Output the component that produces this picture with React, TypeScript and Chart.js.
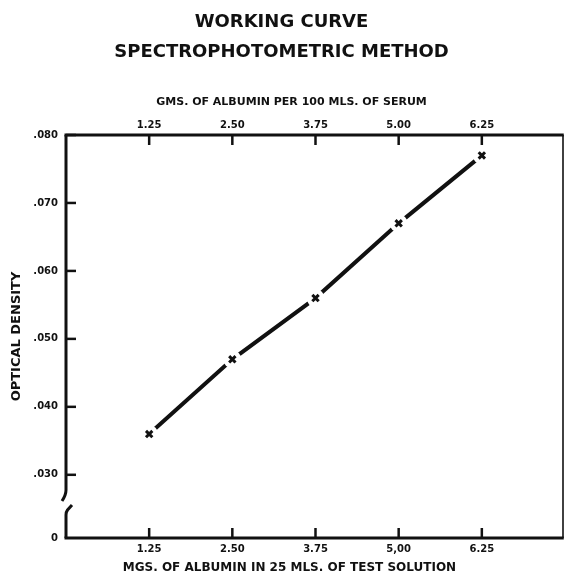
import React, { useEffect, useRef } from 'react';
import { Chart, registerables } from 'chart.js';

Chart.register(...registerables);

// ---- data ----
const albuminMg = [1.25, 2.5, 3.75, 5.0, 6.25];
const opticalDensity = [0.036, 0.047, 0.056, 0.067, 0.077];

const xTickValues = [1.25, 2.5, 3.75, 5.0, 6.25];
const bottomTickLabels = ['1.25', '2.50', '3.75', '5,00', '6.25'];
const topTickLabels = ['1.25', '2.50', '3.75', '5.00', '6.25'];

const yTickValues = [0.03, 0.04, 0.05, 0.06, 0.07, 0.08];
const yTickLabels = ['.030', '.040', '.050', '.060', '.070', '.080'];
const yZeroLabel = '0';

const titleLines = ['WORKING CURVE', 'SPECTROPHOTOMETRIC METHOD'];
const topAxisTitle = 'GMS. OF ALBUMIN PER 100 MLS. OF SERUM';
const bottomAxisTitle = 'MGS. OF ALBUMIN IN 25 MLS. OF TEST SOLUTION';
const yAxisTitle = 'OPTICAL DENSITY';

const xMin = 0;
const xMax = 7.47;
const yBrokenMin = 0.0207; // axis is broken: the bottom of the scale stands for 0
const yMax = 0.08;

const FONT = '"DejaVu Sans", "Liberation Sans", sans-serif';
const INK = '#111111';
const PAD = '\u00A0'.repeat(12);

const framePlugin = {
  id: 'frameAndTicks',
  afterDatasetsDraw(chart: any) {
    const { ctx, chartArea: a, scales } = chart;
    const line = (x1: number, y1: number, x2: number, y2: number) => {
      ctx.beginPath();
      ctx.moveTo(x1, y1);
      ctx.lineTo(x2, y2);
      ctx.stroke();
    };
    ctx.save();
    ctx.strokeStyle = INK;
    ctx.lineCap = 'butt';
    // top & bottom
    ctx.lineWidth = 3;
    line(a.left - 1.5, a.top, a.right + 0.75, a.top);
    line(a.left - 1.5, a.bottom, a.right + 0.75, a.bottom);
    // right
    ctx.lineWidth = 1.6;
    line(a.right, a.top, a.right, a.bottom);
    // left with break
    ctx.lineWidth = 3;
    const L = a.left;
    const bc = a.bottom - 36;
    ctx.beginPath();
    ctx.moveTo(L, a.top);
    ctx.lineTo(L, bc - 12);
    ctx.quadraticCurveTo(L, bc - 7, L - 4, bc - 1);
    ctx.stroke();
    ctx.beginPath();
    ctx.moveTo(L + 6, bc + 3);
    ctx.lineTo(L + 1.5, bc + 8);
    ctx.quadraticCurveTo(L, bc + 10, L, bc + 13);
    ctx.lineTo(L, a.bottom);
    ctx.stroke();
    // inward tick marks
    ctx.lineWidth = 2.5;
    const xs = scales.x;
    xs.ticks.forEach((t: any) => {
      const px = xs.getPixelForValue(t.value);
      line(px, a.bottom, px, a.bottom - 10);
    });
    const xt = scales.x2;
    xt.ticks.forEach((t: any) => {
      const px = xt.getPixelForValue(t.value);
      line(px, a.top, px, a.top + 10);
    });
    const ys = scales.y;
    ys.ticks.forEach((t: any) => {
      if (t.value <= yBrokenMin + 1e-9) return;
      const py = ys.getPixelForValue(t.value);
      line(L, py, L + 10, py);
    });
    ctx.restore();
  },
};

export default function App() {
  const ref = useRef<HTMLCanvasElement | null>(null);

  useEffect(() => {
    if (!ref.current) return;
    const points = albuminMg.map((x, i) => ({ x, y: opticalDensity[i] }));
    const tickFont = { family: FONT, weight: 'bold' as const, size: 10 };

    const chart = new Chart(ref.current, {
      type: 'line',
      data: {
        datasets: [
          {
            label: 'marks',
            data: points,
            showLine: false,
            pointStyle: 'crossRot',
            pointRadius: 4.5,
            pointBorderWidth: 3,
            pointBorderColor: INK,
            pointBackgroundColor: INK,
            order: 1,
          },
          {
            label: 'gaps',
            data: points,
            showLine: false,
            pointStyle: 'circle',
            pointRadius: 9,
            pointBorderWidth: 0,
            pointBackgroundColor: '#ffffff',
            pointBorderColor: '#ffffff',
            order: 2,
          },
          {
            label: 'curve',
            data: points,
            borderColor: INK,
            borderWidth: 4,
            pointRadius: 0,
            tension: 0,
            order: 3,
          },
        ],
      },
      options: {
        responsive: false,
        animation: false,
        events: [],
        layout: { autoPadding: false, padding: { top: 0, right: 4, bottom: 0, left: 0 } },
        plugins: {
          legend: { display: false },
          tooltip: { enabled: false },
          title: {
            display: true,
            text: titleLines,
            color: INK,
            font: { family: FONT, weight: 'bold', size: 18, lineHeight: 30 / 18 },
            padding: { top: 7, bottom: 0 },
          },
        },
        scales: {
          x: {
            type: 'linear',
            position: 'bottom',
            min: xMin,
            max: xMax,
            afterBuildTicks: (s: any) => {
              s.ticks = xTickValues.map((v) => ({ value: v }));
            },
            afterFit: (s: any) => {
              s.height = 38;
            },
            grid: { display: false, drawTicks: false },
            border: { display: false },
            ticks: {
              autoSkip: false,
              maxRotation: 0,
              padding: 5,
              color: INK,
              font: tickFont,
              callback: (_v: any, i: number) => bottomTickLabels[i],
            },
            title: {
              display: true,
              text: bottomAxisTitle + PAD,
              color: INK,
              font: { family: FONT, weight: 'bold', size: 12 },
              padding: { top: 0, bottom: 1 },
            },
          },
          x2: {
            type: 'linear',
            axis: 'x',
            position: 'top',
            min: xMin,
            max: xMax,
            afterBuildTicks: (s: any) => {
              s.ticks = xTickValues.map((v) => ({ value: v }));
            },
            afterFit: (s: any) => {
              s.height = 68;
            },
            grid: { display: false, drawTicks: false },
            border: { display: false },
            ticks: {
              autoSkip: false,
              maxRotation: 0,
              padding: 4,
              color: INK,
              font: tickFont,
              callback: (_v: any, i: number) => topTickLabels[i],
            },
            title: {
              display: true,
              text: topAxisTitle + PAD,
              color: INK,
              font: { family: FONT, weight: 'bold', size: 11 },
              padding: { top: 29, bottom: 0 },
            },
          },
          y: {
            type: 'linear',
            position: 'left',
            min: yBrokenMin,
            max: yMax,
            afterBuildTicks: (s: any) => {
              s.ticks = [yBrokenMin, ...yTickValues].map((v) => ({ value: v }));
            },
            afterFit: (s: any) => {
              s.width = 66;
            },
            grid: { display: false, drawTicks: false },
            border: { display: false },
            ticks: {
              autoSkip: false,
              padding: 8,
              color: INK,
              font: tickFont,
              callback: (_v: any, i: number) => (i === 0 ? yZeroLabel : yTickLabels[i - 1]),
            },
            title: {
              display: true,
              text: yAxisTitle,
              color: INK,
              font: { family: FONT, weight: 'bold', size: 13 },
              padding: { top: 9, bottom: 0 },
            },
          },
        },
      },
      plugins: [framePlugin],
    } as any);

    return () => chart.destroy();
  }, []);

  return (
    <div style={{ position: 'fixed', left: 0, top: 0, width: 567, height: 576, background: '#fff' }}>
      <canvas ref={ref} width={567} height={576} style={{ display: 'block', width: 567, height: 576 }} />
    </div>
  );
}
